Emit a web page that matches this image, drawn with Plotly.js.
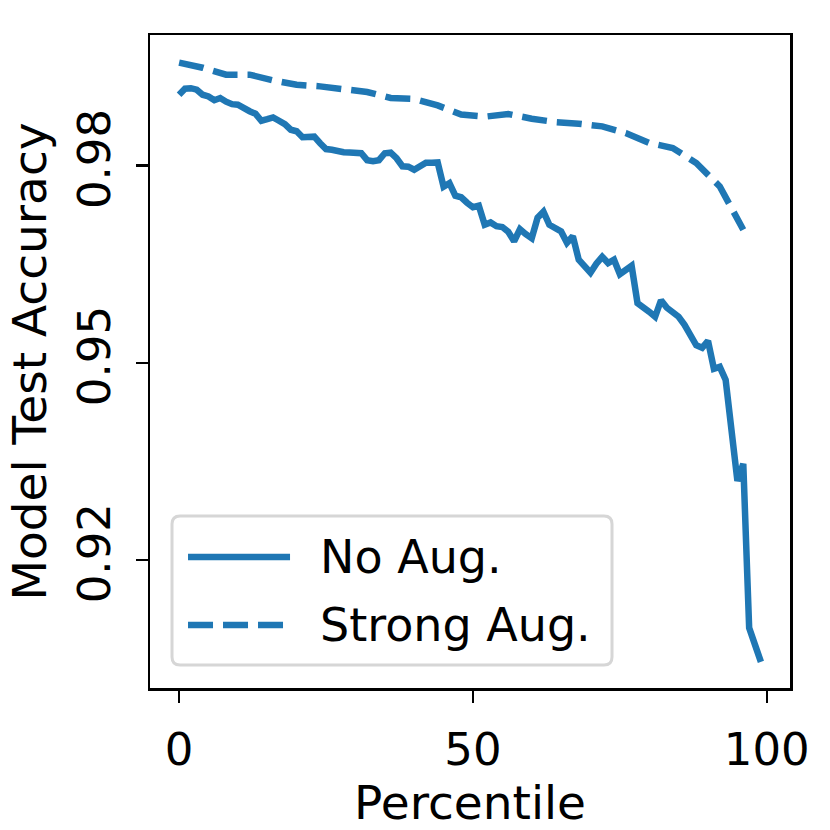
<!DOCTYPE html>
<html>
<head>
<meta charset="utf-8">
<script src="https://cdn.plot.ly/plotly-3.0.1.min.js"></script>
<style>
  html, body { margin: 0; padding: 0; background: #fff; }
  #myDiv { width: 830px; height: 830px; }
</style>
</head>
<body>
<div id="myDiv"></div>
<script>
// percentiles
var noAugX = [];
for (var i = 0; i < 100; i++) noAugX.push(i);
var noAugY = [
  0.99081, 0.99173, 0.99180, 0.99157, 0.99081, 0.99055, 0.98997, 0.99031, 0.98975, 0.98937,
  0.98929, 0.98868, 0.98830, 0.98792, 0.98685, 0.98708, 0.98735, 0.98685, 0.98632, 0.98548,
  0.98525, 0.98434, 0.98434, 0.98442, 0.98343, 0.98254, 0.98244, 0.98213, 0.98206, 0.98201,
  0.98198, 0.98190, 0.98084, 0.98069, 0.98084, 0.98190, 0.98198, 0.98114, 0.97992, 0.97985,
  0.97939, 0.98000, 0.98046, 0.98046, 0.98050, 0.97680, 0.97734, 0.97543, 0.97520, 0.97437,
  0.97368, 0.97391, 0.97102, 0.97137, 0.97079, 0.97067, 0.96995, 0.96850, 0.97033, 0.96957,
  0.96896, 0.97208, 0.97300, 0.97102, 0.97048, 0.97000, 0.96827, 0.96926, 0.96569, 0.96477,
  0.96371, 0.96508, 0.96614, 0.96518, 0.96569, 0.96348, 0.96409, 0.96477, 0.95909, 0.95857,
  0.95777, 0.95701, 0.95952, 0.95838, 0.95762, 0.95701, 0.95579, 0.95427, 0.95267, 0.95229,
  0.95335, 0.94909, 0.94939, 0.94741, 0.93980, 0.93203, 0.93462, 0.90965, 0.90706, 0.90447
];

var strongAugX = [0, 4, 8, 12, 16, 20, 24, 28, 32, 36, 40, 44, 48, 52, 56, 60, 64, 68, 72, 76, 80, 84, 88, 92, 96];
var strongAugY = [
  0.99570, 0.99492, 0.99386, 0.99386, 0.99300, 0.99233, 0.99208, 0.99173, 0.99122, 0.99031,
  0.99016, 0.98918, 0.98780, 0.98746, 0.98787, 0.98716, 0.98665, 0.98640, 0.98599, 0.98498,
  0.98346, 0.98270, 0.98041, 0.97685, 0.97025
];

var yTickVals = [0.92, 0.95, 0.98];
var yTickText = ['0.92', '0.95', '0.98'];
var xTickVals = [0, 50, 100];

var legendNames = ['No Aug.', 'Strong Aug.'];

var blue = '#1f77b4';
var fontFamily = 'DejaVu Sans, sans-serif';

var noAugData = {
    x: noAugX,
    y: noAugY,
    type: 'scatter',
    mode: 'lines',
    name: legendNames[0],
    line: {color: blue, width: 6.5}
};

var strongAugData = {
    x: strongAugX,
    y: strongAugY,
    type: 'scatter',
    mode: 'lines',
    name: legendNames[1],
    line: {color: blue, width: 6.5, dash: '25px,10px'}
};

// legend drawn by hand so the line samples are matplotlib-long
var lx0 = 0.0344, lx1 = 0.7219, ly0 = 0.0352, ly1 = 0.2634;
var rx = 0.0125, ry = 0.0123;
var boxPath = 'M' + (lx0 + rx) + ',' + ly0 +
    ' L' + (lx1 - rx) + ',' + ly0 + ' Q' + lx1 + ',' + ly0 + ' ' + lx1 + ',' + (ly0 + ry) +
    ' L' + lx1 + ',' + (ly1 - ry) + ' Q' + lx1 + ',' + ly1 + ' ' + (lx1 - rx) + ',' + ly1 +
    ' L' + (lx0 + rx) + ',' + ly1 + ' Q' + lx0 + ',' + ly1 + ' ' + lx0 + ',' + (ly1 - ry) +
    ' L' + lx0 + ',' + (ly0 + ry) + ' Q' + lx0 + ',' + ly0 + ' ' + (lx0 + rx) + ',' + ly0 + ' Z';

var rowY = [0.2006, 0.0965];

var layout = {
    width: 830,
    height: 830,
    margin: {l: 150, r: 40, t: 35, b: 142},
    paper_bgcolor: '#fff',
    plot_bgcolor: '#fff',
    showlegend: false,
    font: {family: fontFamily, size: 45, color: '#000'},
    xaxis: {
        range: [-4.95, 103.95],
        tickvals: xTickVals,
        ticks: 'outside',
        ticklen: 12,
        tickwidth: 2.5,
        tickcolor: '#000',
        ticklabelstandoff: 8,
        showline: true,
        linecolor: '#000',
        linewidth: 2.5,
        mirror: true,
        showgrid: false,
        zeroline: false,
        title: {text: 'Percentile', standoff: 8, font: {size: 47}}
    },
    yaxis: {
        range: [0.9005, 0.9999],
        tickvals: yTickVals,
        ticktext: yTickText,
        tickangle: -90,
        ticks: 'outside',
        ticklen: 12,
        tickwidth: 2.5,
        tickcolor: '#000',
        ticklabelstandoff: 8,
        showline: true,
        linecolor: '#000',
        linewidth: 2.5,
        mirror: true,
        showgrid: false,
        zeroline: false,
        title: {text: 'Model Test Accuracy', standoff: 6, font: {size: 47}}
    },
    shapes: [
        {type: 'path', xref: 'paper', yref: 'paper', path: boxPath,
         fillcolor: 'rgba(255,255,255,0.8)', line: {color: '#d6d6d6', width: 3}},
        {type: 'line', xref: 'paper', yref: 'paper', x0: 0.0594, x1: 0.2188, y0: rowY[0], y1: rowY[0],
         line: {color: blue, width: 6.5}},
        {type: 'line', xref: 'paper', yref: 'paper', x0: 0.0594, x1: 0.2188, y0: rowY[1], y1: rowY[1],
         line: {color: blue, width: 6.5, dash: '25px,10px'}}
    ],
    annotations: [
        {xref: 'paper', yref: 'paper', x: 0.2625, y: rowY[0], xanchor: 'left', yanchor: 'middle',
         text: legendNames[0], showarrow: false, font: {size: 46}},
        {xref: 'paper', yref: 'paper', x: 0.2625, y: rowY[1], xanchor: 'left', yanchor: 'middle',
         text: legendNames[1], showarrow: false, font: {size: 46}}
    ]
};

var data = [noAugData, strongAugData];

Plotly.newPlot('myDiv', data, layout, {displayModeBar: false, staticPlot: true});
</script>
</body>
</html>
